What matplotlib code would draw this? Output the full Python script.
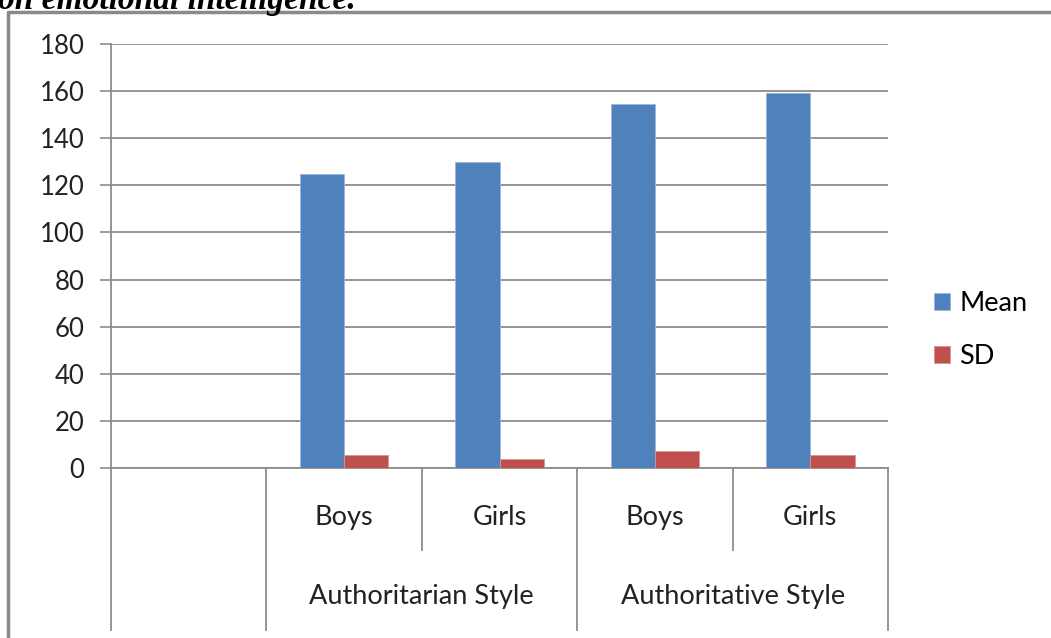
import matplotlib
matplotlib.use('Agg')
import matplotlib.pyplot as plt
import matplotlib.transforms as mtransforms
from matplotlib.lines import Line2D
import numpy as np

# data
categories = ['', 'Boys', 'Girls', 'Boys', 'Girls']
groups = ['Authoritarian Style', 'Authoritative Style']
mean_vals = [np.nan, 125, 130, 154.5, 159]
sd_vals = [np.nan, 5.5, 3.7, 7.3, 5.5]
yticks = [0, 20, 40, 60, 80, 100, 120, 140, 160, 180]

blue = '#4F81BD'
red = '#C0504D'
grey = '#8C8C8C'

plt.rcParams['font.family'] = ['Lato', 'DejaVu Sans']

W, H = 1051, 638
fig = plt.figure(figsize=(W / 100, H / 100), dpi=100)
ax = fig.add_axes([111 / W, (H - 468) / H, 777 / W, 424 / H])

x = np.arange(len(categories))
bw = 0.2857
ax.bar(x - bw / 2, mean_vals, bw, color=blue, edgecolor='#9DB5DA', linewidth=0.6, label='Mean', zorder=3)
ax.bar(x + bw / 2, sd_vals, bw, color=red, edgecolor='#D99391', linewidth=0.6, label='SD', zorder=3)

ax.set_xlim(-0.5, len(categories) - 0.5)
ax.set_ylim(0, 180)
ax.set_yticks(yticks)
ax.yaxis.grid(True, color=grey, linewidth=1.3, zorder=0)
ax.set_xticks([])
ax.tick_params(axis='y', length=8, width=1.2, color=grey, pad=11, labelsize=18.5, labelcolor='#222222')
for s in ['top', 'right']:
    ax.spines[s].set_visible(False)
for s in ['left', 'bottom']:
    ax.spines[s].set_color(grey)
    ax.spines[s].set_linewidth(1.3)

# multi-level category axis
trans = mtransforms.blended_transform_factory(ax.transData, ax.transAxes)
edges = np.arange(len(categories) + 1) - 0.5
for i, e in enumerate(edges):
    low = -0.193 if i in (2, 4) else -0.382
    ax.plot([e, e], [0, low], color=grey, lw=1.3, transform=trans, clip_on=False)
for i, lab in enumerate(categories):
    ax.text(i, -0.116, lab, transform=trans, ha='center', va='center', fontsize=19.5, color='#222222')
for j, g in enumerate(groups):
    ax.text(1.5 + 2 * j, -0.303, g, transform=trans, ha='center', va='center', fontsize=19.5, color='#222222')

ax.legend(loc='center left', bbox_to_anchor=(923 / W, (H - 330) / H), bbox_transform=fig.transFigure,
          frameon=False, fontsize=19.5, handlelength=0.6, handleheight=0.6, handletextpad=0.35,
          labelspacing=1.05, borderaxespad=0)

# outer chart frame
fig.add_artist(Line2D([8 / W, 8 / W, 1.0], [0, (H - 12) / H, (H - 12) / H], color='#8A8A8A', lw=2.5))

# caption above the chart, cut by the top edge as in the source image
fig.text(-2 / W, (H - 9) / H, 'on emotional intelligence.', family='Liberation Serif',
         weight='bold', style='italic', fontsize=24, ha='left', va='baseline')

fig.savefig('out.png', dpi=100)
